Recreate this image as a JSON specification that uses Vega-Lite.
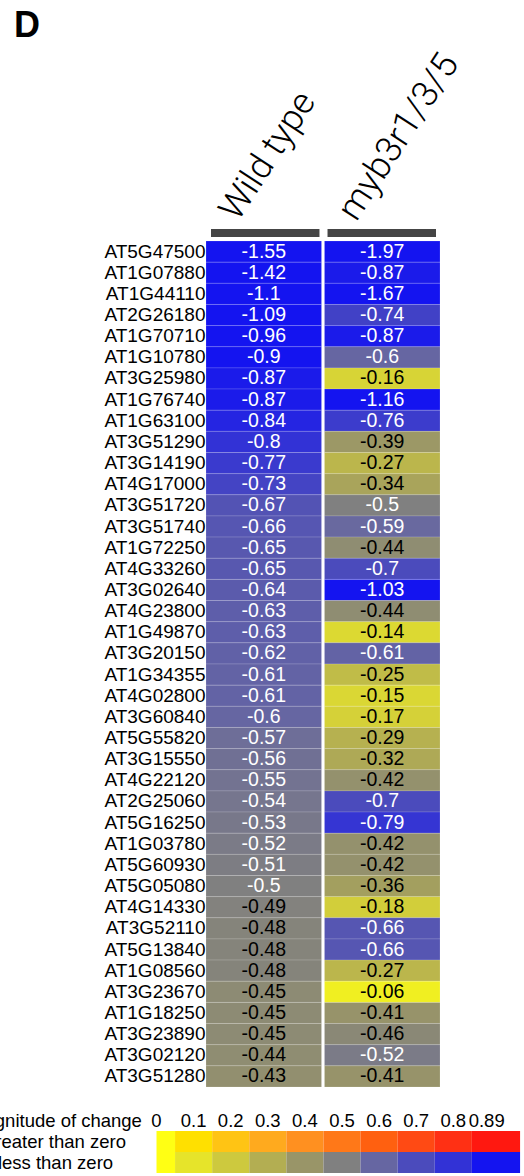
{
  "$schema": "https://vega.github.io/schema/vega-lite/v6.json",
  "width": 524,
  "height": 1176,
  "autosize": {"type": "none"},
  "padding": 0,
  "background": "white",
  "config": {"view": {"stroke": null}, "font": "Liberation Sans", "text": {"font": "Liberation Sans"}},
  "title": {"text": "D", "anchor": "start", "frame": "group", "orient": "top", "offset": 0, "dx": 14, "dy": 73, "baseline": "alphabetic", "fontSize": 36, "fontWeight": "bold", "font": "Liberation Sans", "color": "black"},
  "datasets": {
    "genotypes": [{"genotype": "Wild type"}, {"genotype": "myb3r1/3/5"}],
    "expr": [
      {"gene": "AT5G47500", "genotype": "Wild type", "value": -1.55}, {"gene": "AT5G47500", "genotype": "myb3r1/3/5", "value": -1.97},
      {"gene": "AT1G07880", "genotype": "Wild type", "value": -1.42}, {"gene": "AT1G07880", "genotype": "myb3r1/3/5", "value": -0.87},
      {"gene": "AT1G44110", "genotype": "Wild type", "value": -1.1}, {"gene": "AT1G44110", "genotype": "myb3r1/3/5", "value": -1.67},
      {"gene": "AT2G26180", "genotype": "Wild type", "value": -1.09}, {"gene": "AT2G26180", "genotype": "myb3r1/3/5", "value": -0.74},
      {"gene": "AT1G70710", "genotype": "Wild type", "value": -0.96}, {"gene": "AT1G70710", "genotype": "myb3r1/3/5", "value": -0.87},
      {"gene": "AT1G10780", "genotype": "Wild type", "value": -0.9}, {"gene": "AT1G10780", "genotype": "myb3r1/3/5", "value": -0.6},
      {"gene": "AT3G25980", "genotype": "Wild type", "value": -0.87}, {"gene": "AT3G25980", "genotype": "myb3r1/3/5", "value": -0.16},
      {"gene": "AT1G76740", "genotype": "Wild type", "value": -0.87}, {"gene": "AT1G76740", "genotype": "myb3r1/3/5", "value": -1.16},
      {"gene": "AT1G63100", "genotype": "Wild type", "value": -0.84}, {"gene": "AT1G63100", "genotype": "myb3r1/3/5", "value": -0.76},
      {"gene": "AT3G51290", "genotype": "Wild type", "value": -0.8}, {"gene": "AT3G51290", "genotype": "myb3r1/3/5", "value": -0.39},
      {"gene": "AT3G14190", "genotype": "Wild type", "value": -0.77}, {"gene": "AT3G14190", "genotype": "myb3r1/3/5", "value": -0.27},
      {"gene": "AT4G17000", "genotype": "Wild type", "value": -0.73}, {"gene": "AT4G17000", "genotype": "myb3r1/3/5", "value": -0.34},
      {"gene": "AT3G51720", "genotype": "Wild type", "value": -0.67}, {"gene": "AT3G51720", "genotype": "myb3r1/3/5", "value": -0.5},
      {"gene": "AT3G51740", "genotype": "Wild type", "value": -0.66}, {"gene": "AT3G51740", "genotype": "myb3r1/3/5", "value": -0.59},
      {"gene": "AT1G72250", "genotype": "Wild type", "value": -0.65}, {"gene": "AT1G72250", "genotype": "myb3r1/3/5", "value": -0.44},
      {"gene": "AT4G33260", "genotype": "Wild type", "value": -0.65}, {"gene": "AT4G33260", "genotype": "myb3r1/3/5", "value": -0.7},
      {"gene": "AT3G02640", "genotype": "Wild type", "value": -0.64}, {"gene": "AT3G02640", "genotype": "myb3r1/3/5", "value": -1.03},
      {"gene": "AT4G23800", "genotype": "Wild type", "value": -0.63}, {"gene": "AT4G23800", "genotype": "myb3r1/3/5", "value": -0.44},
      {"gene": "AT1G49870", "genotype": "Wild type", "value": -0.63}, {"gene": "AT1G49870", "genotype": "myb3r1/3/5", "value": -0.14},
      {"gene": "AT3G20150", "genotype": "Wild type", "value": -0.62}, {"gene": "AT3G20150", "genotype": "myb3r1/3/5", "value": -0.61},
      {"gene": "AT1G34355", "genotype": "Wild type", "value": -0.61}, {"gene": "AT1G34355", "genotype": "myb3r1/3/5", "value": -0.25},
      {"gene": "AT4G02800", "genotype": "Wild type", "value": -0.61}, {"gene": "AT4G02800", "genotype": "myb3r1/3/5", "value": -0.15},
      {"gene": "AT3G60840", "genotype": "Wild type", "value": -0.6}, {"gene": "AT3G60840", "genotype": "myb3r1/3/5", "value": -0.17},
      {"gene": "AT5G55820", "genotype": "Wild type", "value": -0.57}, {"gene": "AT5G55820", "genotype": "myb3r1/3/5", "value": -0.29},
      {"gene": "AT3G15550", "genotype": "Wild type", "value": -0.56}, {"gene": "AT3G15550", "genotype": "myb3r1/3/5", "value": -0.32},
      {"gene": "AT4G22120", "genotype": "Wild type", "value": -0.55}, {"gene": "AT4G22120", "genotype": "myb3r1/3/5", "value": -0.42},
      {"gene": "AT2G25060", "genotype": "Wild type", "value": -0.54}, {"gene": "AT2G25060", "genotype": "myb3r1/3/5", "value": -0.7},
      {"gene": "AT5G16250", "genotype": "Wild type", "value": -0.53}, {"gene": "AT5G16250", "genotype": "myb3r1/3/5", "value": -0.79},
      {"gene": "AT1G03780", "genotype": "Wild type", "value": -0.52}, {"gene": "AT1G03780", "genotype": "myb3r1/3/5", "value": -0.42},
      {"gene": "AT5G60930", "genotype": "Wild type", "value": -0.51}, {"gene": "AT5G60930", "genotype": "myb3r1/3/5", "value": -0.42},
      {"gene": "AT5G05080", "genotype": "Wild type", "value": -0.5}, {"gene": "AT5G05080", "genotype": "myb3r1/3/5", "value": -0.36},
      {"gene": "AT4G14330", "genotype": "Wild type", "value": -0.49}, {"gene": "AT4G14330", "genotype": "myb3r1/3/5", "value": -0.18},
      {"gene": "AT3G52110", "genotype": "Wild type", "value": -0.48}, {"gene": "AT3G52110", "genotype": "myb3r1/3/5", "value": -0.66},
      {"gene": "AT5G13840", "genotype": "Wild type", "value": -0.48}, {"gene": "AT5G13840", "genotype": "myb3r1/3/5", "value": -0.66},
      {"gene": "AT1G08560", "genotype": "Wild type", "value": -0.48}, {"gene": "AT1G08560", "genotype": "myb3r1/3/5", "value": -0.27},
      {"gene": "AT3G23670", "genotype": "Wild type", "value": -0.45}, {"gene": "AT3G23670", "genotype": "myb3r1/3/5", "value": -0.06},
      {"gene": "AT1G18250", "genotype": "Wild type", "value": -0.45}, {"gene": "AT1G18250", "genotype": "myb3r1/3/5", "value": -0.41},
      {"gene": "AT3G23890", "genotype": "Wild type", "value": -0.45}, {"gene": "AT3G23890", "genotype": "myb3r1/3/5", "value": -0.46},
      {"gene": "AT3G02120", "genotype": "Wild type", "value": -0.44}, {"gene": "AT3G02120", "genotype": "myb3r1/3/5", "value": -0.52},
      {"gene": "AT3G51280", "genotype": "Wild type", "value": -0.43}, {"gene": "AT3G51280", "genotype": "myb3r1/3/5", "value": -0.41}
    ],
    "legend": [
      {"row": "greater than zero", "mag": 0, "lo": 0, "hi": 0.05, "value": 0},
      {"row": "greater than zero", "mag": 0.1, "lo": 0.05, "hi": 0.15, "value": 0.1},
      {"row": "greater than zero", "mag": 0.2, "lo": 0.15, "hi": 0.25, "value": 0.2},
      {"row": "greater than zero", "mag": 0.3, "lo": 0.25, "hi": 0.35, "value": 0.3},
      {"row": "greater than zero", "mag": 0.4, "lo": 0.35, "hi": 0.45, "value": 0.4},
      {"row": "greater than zero", "mag": 0.5, "lo": 0.45, "hi": 0.55, "value": 0.5},
      {"row": "greater than zero", "mag": 0.6, "lo": 0.55, "hi": 0.65, "value": 0.6},
      {"row": "greater than zero", "mag": 0.7, "lo": 0.65, "hi": 0.75, "value": 0.7},
      {"row": "greater than zero", "mag": 0.8, "lo": 0.75, "hi": 0.85, "value": 0.8},
      {"row": "greater than zero", "mag": 0.89, "lo": 0.85, "hi": 0.98, "value": 0.89},
      {"row": "less than zero", "mag": 0, "lo": 0, "hi": 0.05, "value": 0},
      {"row": "less than zero", "mag": 0.1, "lo": 0.05, "hi": 0.15, "value": -0.1},
      {"row": "less than zero", "mag": 0.2, "lo": 0.15, "hi": 0.25, "value": -0.2},
      {"row": "less than zero", "mag": 0.3, "lo": 0.25, "hi": 0.35, "value": -0.3},
      {"row": "less than zero", "mag": 0.4, "lo": 0.35, "hi": 0.45, "value": -0.4},
      {"row": "less than zero", "mag": 0.5, "lo": 0.45, "hi": 0.55, "value": -0.5},
      {"row": "less than zero", "mag": 0.6, "lo": 0.55, "hi": 0.65, "value": -0.6},
      {"row": "less than zero", "mag": 0.7, "lo": 0.65, "hi": 0.75, "value": -0.7},
      {"row": "less than zero", "mag": 0.8, "lo": 0.75, "hi": 0.85, "value": -0.8},
      {"row": "less than zero", "mag": 0.89, "lo": 0.85, "hi": 0.98, "value": -0.89}
    ]
  },
  "layer": [
    {
      "data": {"name": "genotypes"},
      "mark": {"type": "rect", "color": "#454545"},
      "encoding": {
        "x": {"field": "genotype", "type": "nominal", "sort": null, "scale": {"domain": ["Wild type", "myb3r1/3/5"], "range": [211, 436], "paddingInner": 0.069, "paddingOuter": 0}, "axis": null},
        "y": {"datum": "bar", "type": "nominal", "scale": {"domain": ["bar"], "range": [229, 237], "paddingInner": 0, "paddingOuter": 0}, "axis": null}
      }
    },
    {
      "data": {"name": "expr"},
      "encoding": {
        "x": {"field": "genotype", "type": "nominal", "sort": null,
          "scale": {"domain": ["Wild type", "myb3r1/3/5"], "range": [206, 440], "paddingInner": 0.025, "paddingOuter": 0},
          "axis": {"orient": "top", "offset": -222, "title": null, "domain": false, "ticks": false, "labelAngle": -57, "labelAlign": "left", "labelBaseline": "alphabetic", "labelOffset": -26, "labelPadding": 0, "labelFont": "Roboto", "labelFontWeight": 300, "labelFontSize": 36, "labelColor": "black", "labelLimit": 0, "labelOverlap": false}},
        "y": {"field": "gene", "type": "nominal", "sort": null,
          "scale": {"range": [241, 1087], "paddingInner": 0, "paddingOuter": 0},
          "axis": {"orient": "left", "offset": -206, "title": null, "domain": false, "ticks": false, "labelPadding": 1, "labelFont": "Liberation Sans", "labelFontSize": 19, "labelColor": "black", "labelLimit": 0, "labelOverlap": false}}
      },
      "layer": [
        {
          "mark": {"type": "rect", "stroke": "white", "strokeWidth": 0.6, "strokeOpacity": 0.25},
          "encoding": {
            "color": {"field": "value", "type": "quantitative", "legend": null,
              "scale": {"domain": [-0.89, -0.8, -0.7, -0.6, -0.5, -0.4, -0.3, -0.2, -0.1, 0, 0.1, 0.2, 0.3, 0.4, 0.5, 0.6, 0.7, 0.8, 0.89],
                "range": ["#1414f0", "#3232d6", "#4b4bbc", "#6666a2", "#808080", "#999568", "#b3ae52", "#cdc93e", "#e6e42a", "#ffff14", "#ffe000", "#ffc414", "#ffaa1e", "#ff9020", "#ff7818", "#ff6010", "#ff4a14", "#ff3014", "#ff1810"],
                "interpolate": "rgb", "clamp": true}}
          }
        },
        {
          "mark": {"type": "text", "font": "Liberation Sans", "fontSize": 19.5},
          "encoding": {
            "text": {"field": "value", "type": "nominal"},
            "color": {"condition": {"test": "datum.value <= -0.5", "value": "white"}, "value": "black"}
          }
        }
      ]
    },
    {
      "data": {"name": "legend"},
      "encoding": {
        "y": {"field": "row", "type": "nominal",
          "scale": {"domain": ["Magnitude of change", "greater than zero", "less than zero"], "range": [1110, 1173], "paddingInner": 0, "paddingOuter": 0},
          "axis": {"orient": "left", "offset": -155, "title": null, "domain": false, "ticks": false, "labelAlign": "center", "labelPadding": 100, "labelFont": "Liberation Sans", "labelFontSize": 18.5, "labelColor": "black", "labelLimit": 0, "labelOverlap": false}}
      },
      "layer": [
        {
          "mark": {"type": "rect"},
          "encoding": {
            "x": {"field": "lo", "type": "quantitative", "scale": {"domain": [0, 1], "range": [156.5, 527.5], "nice": false, "zero": false}, "axis": null},
            "x2": {"field": "hi"},
            "color": {"field": "value", "type": "quantitative", "legend": null,
              "scale": {"domain": [-0.89, -0.8, -0.7, -0.6, -0.5, -0.4, -0.3, -0.2, -0.1, 0, 0.1, 0.2, 0.3, 0.4, 0.5, 0.6, 0.7, 0.8, 0.89],
                "range": ["#1414f0", "#3232d6", "#4b4bbc", "#6666a2", "#808080", "#999568", "#b3ae52", "#cdc93e", "#e6e42a", "#ffff14", "#ffe000", "#ffc414", "#ffaa1e", "#ff9020", "#ff7818", "#ff6010", "#ff4a14", "#ff3014", "#ff1810"],
                "interpolate": "rgb", "clamp": true}}
          }
        },
        {
          "transform": [{"filter": "datum.row === 'greater than zero'"}],
          "mark": {"type": "text", "font": "Liberation Sans", "fontSize": 18.5, "color": "black"},
          "encoding": {
            "x": {"field": "mag", "type": "quantitative", "axis": null},
            "y": {"datum": "Magnitude of change"},
            "text": {"field": "mag", "type": "nominal"}
          }
        }
      ]
    }
  ],
  "resolve": {"scale": {"x": "independent", "y": "independent"}}
}
